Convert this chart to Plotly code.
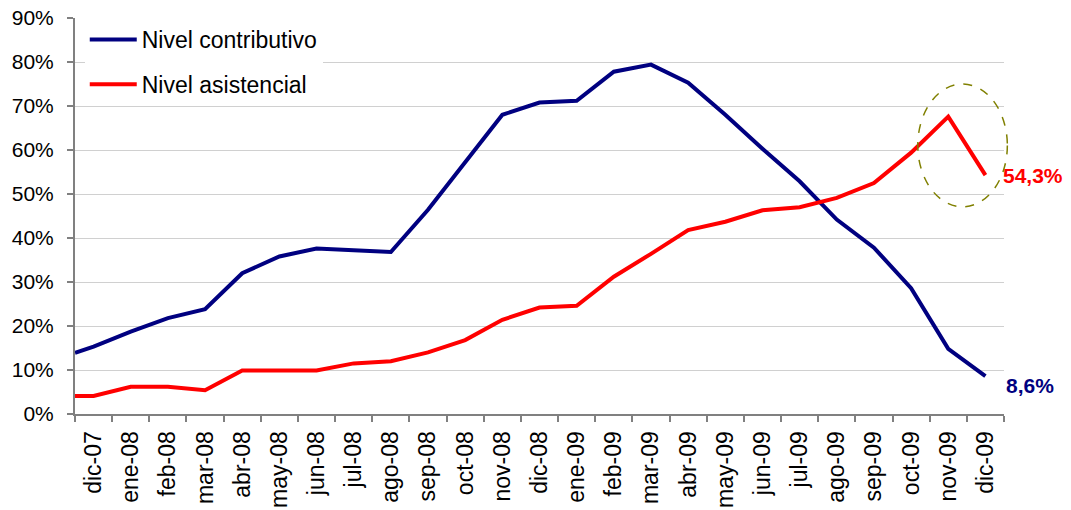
import plotly.graph_objects as go

months = ["dic-07", "ene-08", "feb-08", "mar-08", "abr-08", "may-08", "jun-08",
          "jul-08", "ago-08", "sep-08", "oct-08", "nov-08", "dic-08", "ene-09",
          "feb-09", "mar-09", "abr-09", "may-09", "jun-09", "jul-09", "ago-09",
          "sep-09", "oct-09", "nov-09", "dic-09"]

# values in %, one per month
contributivo = [15.3, 18.7, 21.8, 23.8, 32.0, 35.8, 37.6, 37.2, 36.8, 46.4, 57.2,
                68.0, 70.8, 71.2, 77.8, 79.4, 75.3, 68.0, 60.3, 52.9, 44.2, 37.8,
                28.6, 14.8, 8.6]
asistencial = [4.1, 6.2, 6.2, 5.4, 9.9, 9.9, 9.9, 11.5, 12.0, 14.0, 16.8, 21.4,
               24.2, 24.6, 31.2, 36.4, 41.8, 43.7, 46.3, 47.0, 49.1, 52.5, 59.4,
               67.6, 54.3]
# value where each line enters at the left edge of the plot
contributivo_start = 13.9
asistencial_start = 4.1

label_contrib = "8,6%"
label_asist = "54,3%"

# highlight ellipse (category index, %)
ellipse_x = (22.18, 24.59)
ellipse_y = (47.1, 75.0)

NAVY = "#000080"
RED = "#FF0000"
GRAY = "#808080"
FONT = "Liberation Sans, Arial, sans-serif"

idx = list(range(len(months)))
x_line = [-0.5] + idx
XR = [-0.5, len(months) - 0.5]
YR = [0, 90]

fig = go.Figure()
fig.add_trace(go.Scatter(x=x_line, y=[contributivo_start] + contributivo, mode="lines",
                         name="Nivel contributivo", legendgroup="a",
                         line=dict(color=NAVY, width=4)))
fig.add_trace(go.Scatter(x=x_line, y=[asistencial_start] + asistencial, mode="lines",
                         name="Nivel asistencial", legendgroup="b",
                         line=dict(color=RED, width=4)))

fig.add_annotation(x=idx[-1], y=contributivo[-1], text="<b>" + label_contrib + "</b>",
                   showarrow=False, xanchor="left", yanchor="middle", xshift=19, yshift=-9,
                   font=dict(family=FONT, size=21, color=NAVY))
fig.add_annotation(x=idx[-1], y=asistencial[-1], text="<b>" + label_asist + "</b>",
                   showarrow=False, xanchor="left", yanchor="middle", xshift=16, yshift=0,
                   font=dict(family=FONT, size=21, color=RED))

def px(v):
    return (v - XR[0]) / (XR[1] - XR[0])

def py(v):
    return (v - YR[0]) / (YR[1] - YR[0])

fig.add_shape(type="circle", xref="paper", yref="paper",
              x0=px(ellipse_x[0]), x1=px(ellipse_x[1]),
              y0=py(ellipse_y[0]), y1=py(ellipse_y[1]),
              line=dict(color="#808000", width=1.5, dash="dash"))

# the page body adds an 8px offset, so the figure is sized to fill the rest
fig.update_layout(
    width=1063, height=502,
    margin=dict(l=67, r=67, t=10, b=96, autoexpand=False),
    paper_bgcolor="white", plot_bgcolor="white",
    font=dict(family=FONT, color="black"),
    showlegend=True,
    legend=dict(x=0.0105, y=1.0, xanchor="left", yanchor="top",
                bgcolor="white", borderwidth=0, tracegroupgap=12,
                itemwidth=47, font=dict(family=FONT, size=23, color="black")),
    xaxis=dict(range=XR, tickmode="array", tickvals=idx, ticktext=months,
               tickangle=-90, ticks="outside", ticklen=6, tickcolor="rgba(0,0,0,0)",
               tickfont=dict(family=FONT, size=23, color="black"), automargin=False,
               ticklabeloverflow="allow",
               showgrid=False, zeroline=False, showline=True, linecolor=GRAY, linewidth=2,
               minor=dict(tickmode="array", tickvals=[i - 0.5 for i in range(len(months) + 1)],
                          ticks="outside", ticklen=6, tickcolor=GRAY, tickwidth=1.5,
                          showgrid=False)),
    yaxis=dict(range=YR, tickmode="linear", tick0=0, dtick=10, ticksuffix="%",
               ticks="outside", ticklen=6, tickcolor=GRAY, tickwidth=1.5,
               tickfont=dict(family=FONT, size=21, color="black"), automargin=False,
               ticklabeloverflow="allow",
               showgrid=True, gridcolor="#d0d0d0", gridwidth=1,
               zeroline=False, showline=True, linecolor=GRAY, linewidth=2,
               ticklabelstandoff=9),
)

fig.write_html("out.html")
